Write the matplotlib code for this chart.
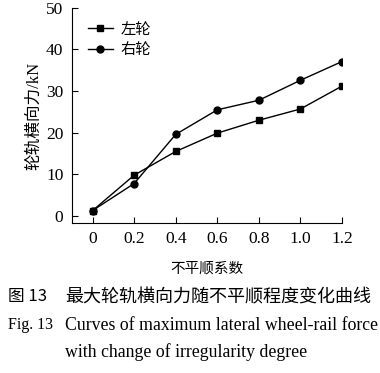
import matplotlib
matplotlib.use('Agg')
import matplotlib.pyplot as plt

# 不平顺系数
x_vals = [0, 0.2, 0.4, 0.6, 0.8, 1.0, 1.2]
# 左轮 / 右轮 最大轮轨横向力 (kN)
left_wheel = [1.3, 9.8, 15.5, 19.9, 23.0, 25.7, 31.2]
right_wheel = [1.3, 7.8, 19.6, 25.5, 27.8, 32.6, 37.1]
x_ticks = [0, 0.2, 0.4, 0.6, 0.8, 1.0, 1.2]
x_tick_labels = ['0', '0.2', '0.4', '0.6', '0.8', '1.0', '1.2']
y_ticks = [0, 10, 20, 30, 40, 50]

serif = ['Liberation Serif', 'Noto Sans CJK SC']
cjk = ['Noto Sans CJK SC', 'Liberation Serif']

fig = plt.figure(figsize=(3.8, 3.73), dpi=100)
ax = fig.add_axes([0.189, 0.402, 0.711, 0.577])

ax.plot(x_vals, left_wheel, '-s', color='black', lw=1.0, ms=5, label='左轮')
ax.plot(x_vals, right_wheel, '-o', color='black', lw=1.0, ms=5, label='右轮')

ax.set_xlim(-0.1, 1.2)
ax.set_ylim(-1.7, 50)
ax.set_xticks(x_ticks)
ax.set_xticklabels(x_tick_labels, family=serif, fontsize=12.5)
ax.set_yticks(y_ticks)
ax.set_yticklabels([str(v) for v in y_ticks], family=serif, fontsize=12.5)
ax.tick_params(direction='in', length=4, width=0.8, pad=6)
ax.spines['top'].set_visible(False)
ax.spines['right'].set_visible(False)

ax.set_ylabel('轮轨横向力/kN', family=serif, fontsize=12, labelpad=3)
ax.set_xlabel('不平顺系数', family=cjk, fontsize=10.5, labelpad=10)

leg = ax.legend(loc='upper left', bbox_to_anchor=(0.01, 1.005), frameon=False,
                prop={'family': cjk, 'size': 11}, handlelength=1.6, labelspacing=0.25,
                handletextpad=0.5)

fig.text(0.02, 1 - 297 / 373, '图 13', family=cjk, fontsize=12, va='center')
fig.text(0.171, 1 - 297 / 373, '最大轮轨横向力随不平顺程度变化曲线', family=cjk, fontsize=13, va='center')
fig.text(0.02, 1 - 325 / 373, 'Fig. 13', family=serif, fontsize=11.5, va='center')
fig.text(0.171, 1 - 325 / 373, 'Curves of maximum lateral wheel-rail force', family=serif, fontsize=12.8, va='center')
fig.text(0.171, 1 - 352 / 373, 'with change of irregularity degree', family=serif, fontsize=12.8, va='center')

fig.savefig('out.png', dpi=100)
